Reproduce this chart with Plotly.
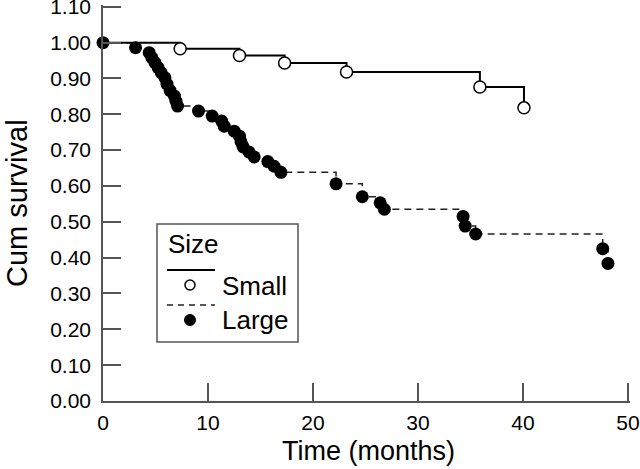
import plotly.graph_objects as go

# ---- data ----
small_t = [0, 7.35, 13.0, 17.3, 23.2, 35.9, 40.1]
small_s = [1.000, 0.983, 0.964, 0.943, 0.918, 0.876, 0.818]

large_t = [0, 3.1, 4.4, 4.65, 4.95, 5.25, 5.55, 5.9, 6.1, 6.4, 6.8, 6.95, 7.1,
           9.1, 10.4, 11.3, 11.55, 12.5, 13.0, 13.15, 13.35, 13.9, 14.4,
           15.7, 16.3, 16.95, 22.2, 24.7, 26.4, 26.8, 34.3, 34.5, 35.5,
           47.6, 48.1]
large_s = [1.000, 0.986, 0.972, 0.958, 0.944, 0.930, 0.916, 0.902, 0.884, 0.866,
           0.851, 0.837, 0.823,
           0.809, 0.795, 0.781, 0.767, 0.753, 0.739, 0.723, 0.709, 0.695, 0.681,
           0.668, 0.655, 0.638, 0.606, 0.570, 0.553, 0.535, 0.515, 0.488, 0.466,
           0.425, 0.384]

x_ticks = [0, 10, 20, 30, 40, 50]
y_ticks = [0.0, 0.1, 0.2, 0.3, 0.4, 0.5, 0.6, 0.7, 0.8, 0.9, 1.0, 1.1]
y_ticktext = ["0.00", "0.10", "0.20", "0.30", "0.40", "0.50", "0.60", "0.70",
              "0.80", "0.90", "1.00", "1.10"]

W, H = 640, 469
ML, MR, MT, MB = 103, 10, 5, 68
PW, PH = W - ML - MR, H - MT - MB

def px2x(px):
    return (px - ML) / PW

def py2y(py):
    return (H - MB - py) / PH

AX = "#555555"
FONT = "Liberation Sans, Arial, Helvetica, sans-serif"

fig = go.Figure()
fig.add_trace(go.Scatter(
    x=large_t, y=large_s, mode="lines+markers", line_shape="hv",
    line=dict(color="#222222", width=1.5, dash="7px,5px"),
    marker=dict(symbol="circle", size=13, color="black", line=dict(width=0)),
    cliponaxis=False, showlegend=False, name="Large"))
fig.add_trace(go.Scatter(
    x=small_t, y=small_s, mode="lines", line_shape="hv",
    line=dict(color="black", width=2),
    cliponaxis=False, showlegend=False, name="Small"))
fig.add_trace(go.Scatter(
    x=small_t[1:], y=small_s[1:], mode="markers",
    marker=dict(symbol="circle", size=12, color="white", line=dict(color="black", width=1.5)),
    cliponaxis=False, showlegend=False, name="Small"))

shapes = [
    dict(type="rect", xref="paper", yref="paper",
         x0=px2x(157), x1=px2x(298), y0=py2y(342), y1=py2y(224),
         line=dict(color=AX, width=1.5), fillcolor="white", layer="above"),
    dict(type="line", xref="paper", yref="paper",
         x0=px2x(167), x1=px2x(215), y0=py2y(270), y1=py2y(270),
         line=dict(color="black", width=2)),
    dict(type="line", xref="paper", yref="paper",
         x0=px2x(167), x1=px2x(215), y0=py2y(305), y1=py2y(305),
         line=dict(color="#222222", width=1.5, dash="6px,5px")),
    dict(type="circle", xref="paper", yref="paper", xsizemode="pixel", ysizemode="pixel",
         xanchor=px2x(190), yanchor=py2y(285), x0=-5, x1=5, y0=-5, y1=5,
         line=dict(color="black", width=1.5), fillcolor="white"),
    dict(type="circle", xref="paper", yref="paper", xsizemode="pixel", ysizemode="pixel",
         xanchor=px2x(190), yanchor=py2y(320), x0=-5.5, x1=5.5, y0=-5.5, y1=5.5,
         line=dict(color="black", width=1), fillcolor="black"),
]

annotations = [
    dict(text="Size", xref="paper", yref="paper", x=px2x(166), y=py2y(244),
         xanchor="left", yanchor="middle", showarrow=False, font=dict(size=26)),
    dict(text="Small", xref="paper", yref="paper", x=px2x(220), y=py2y(286),
         xanchor="left", yanchor="middle", showarrow=False, font=dict(size=26)),
    dict(text="Large", xref="paper", yref="paper", x=px2x(220), y=py2y(320),
         xanchor="left", yanchor="middle", showarrow=False, font=dict(size=26)),
    dict(text="Time (months)", xref="paper", yref="paper", x=px2x(368), y=py2y(451),
         xanchor="center", yanchor="middle", showarrow=False, font=dict(size=27)),
    dict(text="Cum survival", xref="paper", yref="paper", x=px2x(17), y=py2y(203),
         xanchor="center", yanchor="middle", textangle=-90, showarrow=False,
         font=dict(size=29)),
]

fig.update_layout(
    width=W, height=H,
    margin=dict(l=ML, r=MR, t=MT, b=MB, pad=0, autoexpand=False),
    paper_bgcolor="white", plot_bgcolor="white",
    font=dict(family=FONT, color="black", size=21),
    shapes=shapes, annotations=annotations, showlegend=False,
    xaxis=dict(range=[0, 50.2], tickvals=x_ticks, ticks="inside", ticklen=18,
               tickwidth=1.5, tickcolor=AX, showline=True, linecolor=AX, linewidth=1.5,
               showgrid=False, zeroline=False, ticklabelstandoff=2, automargin=False,
               ticklabeloverflow="allow", tickfont=dict(size=21)),
    yaxis=dict(range=[0, 1.105], tickvals=y_ticks, ticktext=y_ticktext, ticks="inside",
               ticklen=18, tickwidth=1.5, tickcolor=AX, showline=True, linecolor=AX,
               linewidth=1.5, showgrid=False, zeroline=False, ticklabelstandoff=6,
               automargin=False, ticklabeloverflow="allow", tickfont=dict(size=21)),
)

fig.write_html("out.html", config={"displayModeBar": False},
               post_script="document.body.style.margin='0';"
                           "document.body.style.overflow='hidden';")
